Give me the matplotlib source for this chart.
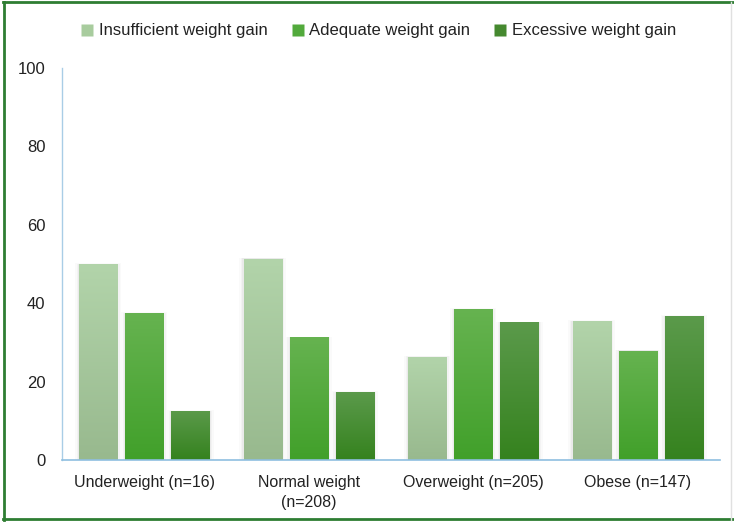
import numpy as np
import matplotlib.pyplot as plt
from matplotlib.colors import LinearSegmentedColormap
from matplotlib.patches import Rectangle
from matplotlib.lines import Line2D

plt.rcParams['font.family'] = ['Liberation Sans', 'DejaVu Sans']

groups = ['Underweight (n=16)', 'Normal weight\n(n=208)', 'Overweight (n=205)', 'Obese (n=147)']
series = ['Insufficient weight gain', 'Adequate weight gain', 'Excessive weight gain']
insufficient = [50.0, 51.4, 26.3, 35.4]
adequate = [37.5, 31.3, 38.5, 27.9]
excessive = [12.5, 17.3, 35.1, 36.7]
yticks = [0, 20, 40, 60, 80, 100]

# gradient (top, bottom) per series, solid colour for the legend
grad = [('#b2d4aa', '#98b98e'), ('#66b350', '#41a02a'), ('#5b9a4b', '#35821e')]
solid = ['#a8cc9e', '#52aa3c', '#45892f']

fig = plt.figure(figsize=(7.34, 5.23), dpi=100)
ax = fig.add_axes([62 / 734, 1 - 460 / 523, 658 / 734, 392 / 523])

x = np.arange(len(groups))
width = 0.232
offset = 0.28
grad_img = np.linspace(1, 0, 256).reshape(-1, 1)

for i, vals in enumerate([insufficient, adequate, excessive]):
    cmap = LinearSegmentedColormap.from_list('g%d' % i, [grad[i][1], grad[i][0]])
    for xi, v in zip(x, vals):
        left = xi + (i - 1) * offset - width / 2
        # soft shadow behind the bar
        for k, a in [(0.025, 0.035), (0.015, 0.05), (0.007, 0.07)]:
            ax.add_patch(Rectangle((left - k, 0), width + 2 * k, v + k * 8,
                                   facecolor='#808080', alpha=a, lw=0, zorder=1))
        bar = Rectangle((left, 0), width, v, facecolor='none', lw=0, zorder=2)
        ax.add_patch(bar)
        im = ax.imshow(grad_img, cmap=cmap, extent=[left, left + width, 0, v],
                       aspect='auto', zorder=2, interpolation='bilinear')
        im.set_clip_path(bar)

ax.set_xlim(-0.5, 3.5)
ax.set_ylim(0, 100)
ax.set_xticks(x)
ax.set_xticklabels(groups, fontsize=11.5, color='#222222', linespacing=1.4)
ax.set_yticks(yticks)
ax.set_yticklabels([str(t) for t in yticks], fontsize=12, color='#222222')
ax.tick_params(axis='both', length=0)
ax.tick_params(axis='y', pad=12)
ax.tick_params(axis='x', pad=11)
for s in ['top', 'right']:
    ax.spines[s].set_visible(False)
ax.spines['left'].set_color('#a9cde6')
ax.spines['bottom'].set_color('#8fbfe0')
ax.spines['left'].set_linewidth(1.0)
ax.spines['bottom'].set_linewidth(1.2)

handles = [Line2D([], [], marker='s', linestyle='none', markersize=8,
                  markerfacecolor=c, markeredgecolor='none') for c in solid]
fig.legend(handles, series, loc='center', bbox_to_anchor=(0.515, 0.941), ncol=3,
           frameon=False, fontsize=12, handletextpad=0.25, columnspacing=1.35,
           handlelength=0.9, labelcolor='#222222')

# outer frame
fig.add_artist(Line2D([4 / 734, 4 / 734], [0.005, 0.996], transform=fig.transFigure,
                      color='#2e7d32', lw=2))
fig.add_artist(Line2D([0.004, 0.999], [1 - 2 / 523, 1 - 2 / 523], transform=fig.transFigure,
                      color='#2e7d32', lw=2))
fig.add_artist(Line2D([0.004, 0.999], [1 - 519 / 523, 1 - 519 / 523], transform=fig.transFigure,
                      color='#2e7d32', lw=2))
fig.add_artist(Line2D([731 / 734, 731 / 734], [0.005, 0.996], transform=fig.transFigure,
                      color='#e0e0e0', lw=1))

fig.savefig('out.png', dpi=100)
